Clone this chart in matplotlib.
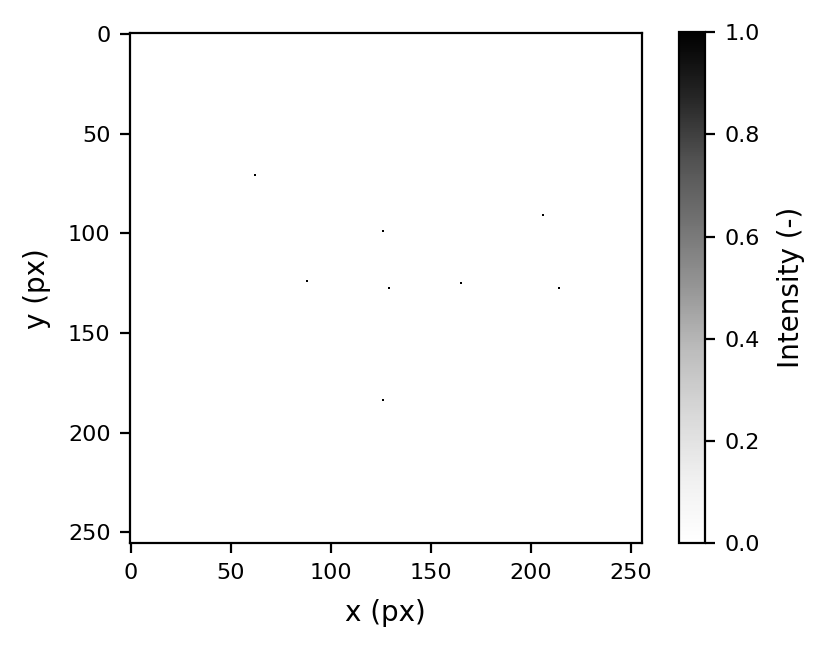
import numpy as np
import matplotlib
matplotlib.use("Agg")
import matplotlib.pyplot as plt

size = 256
cols = [62, 206, 126, 88, 129, 165, 214, 126]
rows = [71, 91, 99, 124, 128, 125, 128, 184]
vals = [1.0, 1.0, 1.0, 1.0, 1.0, 1.0, 1.0, 1.0]

img = np.zeros((size, size))
for r, c, v in zip(rows, cols, vals):
    img[r, c] = v

W, H = 829, 654
dpi = 200
fig = plt.figure(figsize=(W / dpi, H / dpi), dpi=dpi)
ax = fig.add_axes([130 / W, 1 - 543.3 / H, 511.7 / W, 510.3 / H])
im = ax.imshow(img, cmap="Greys", vmin=0, vmax=1, interpolation="nearest", aspect="auto")
ax.set_xticks([0, 50, 100, 150, 200, 250])
ax.set_yticks([0, 50, 100, 150, 200, 250])
ax.tick_params(labelsize=8)
ax.set_xlabel("x (px)", fontsize=10, labelpad=6)
ax.set_ylabel("y (px)", fontsize=10, labelpad=6)

cax = fig.add_axes([679 / W, 1 - 543.3 / H, 26.5 / W, 511 / H])
cb = fig.colorbar(im, cax=cax)
cb.set_ticks([0.0, 0.2, 0.4, 0.6, 0.8, 1.0])
cb.ax.tick_params(labelsize=8)
cb.set_label("Intensity (-)", fontsize=10, labelpad=6)

fig.savefig("out.png", dpi=dpi)
